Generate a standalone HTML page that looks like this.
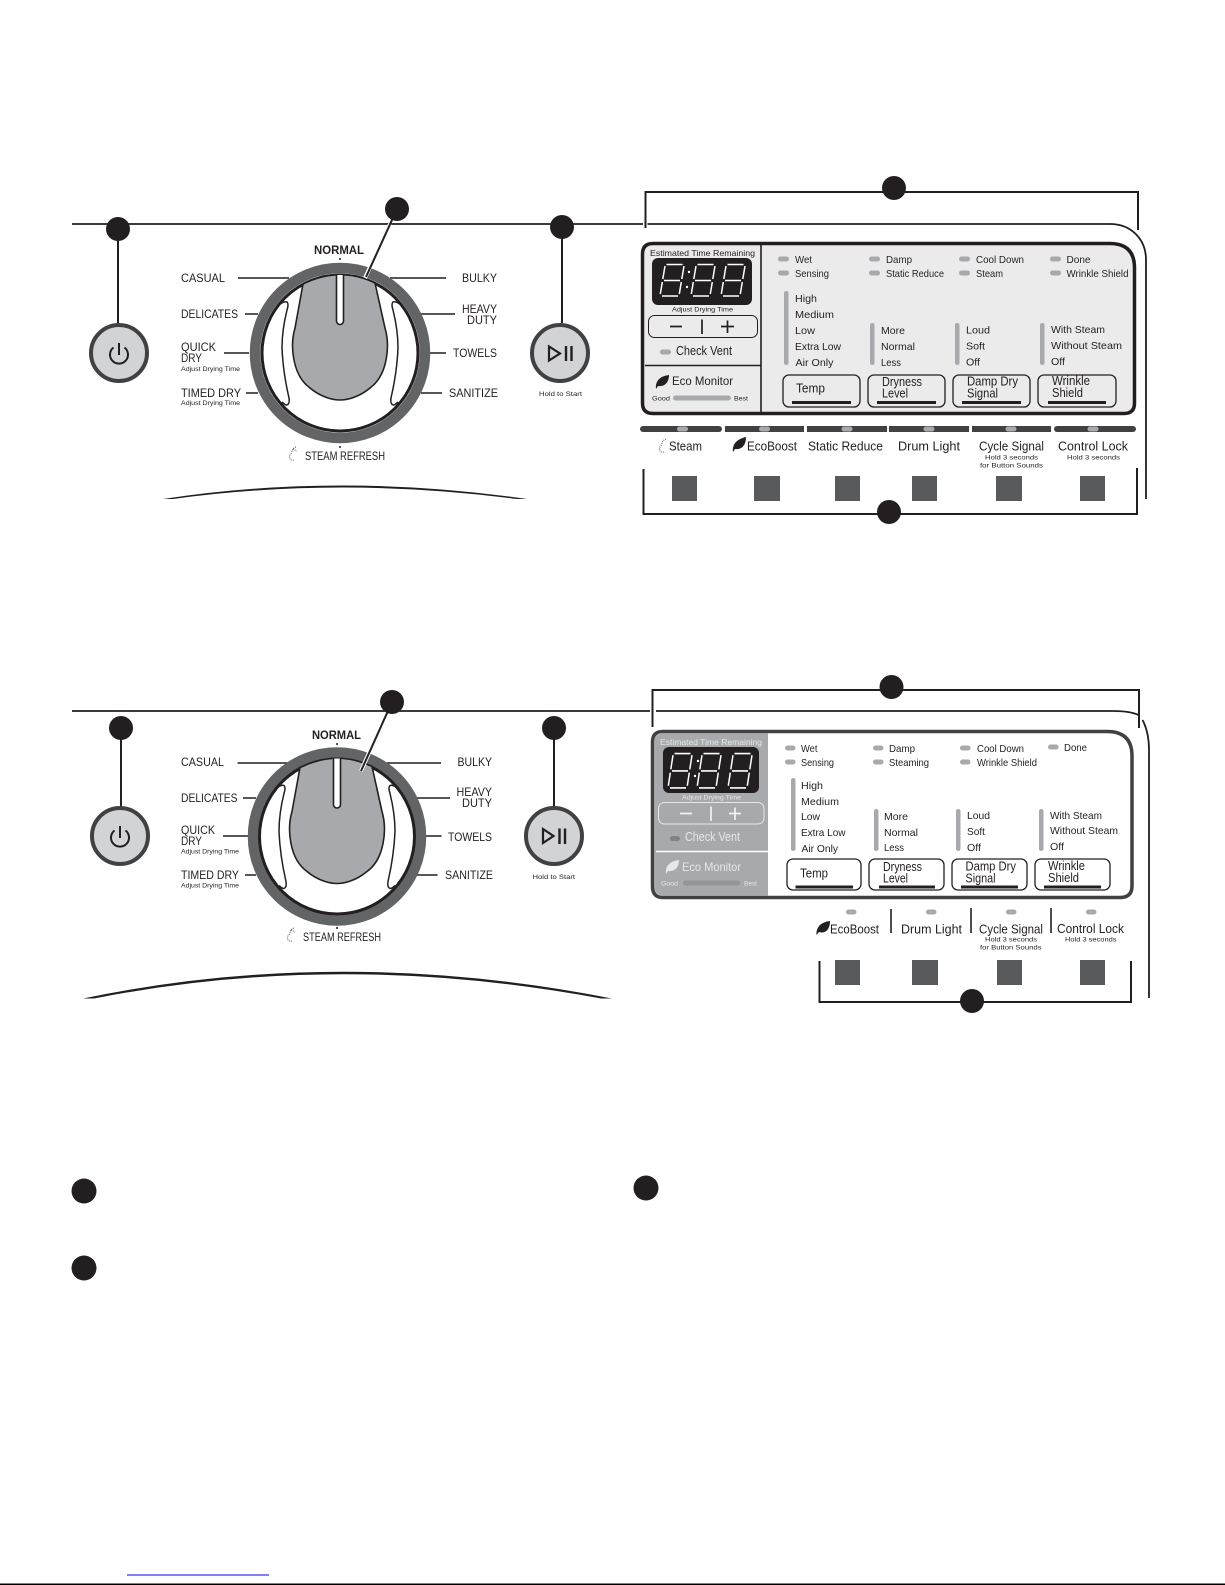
<!DOCTYPE html>
<html><head><meta charset="utf-8"><style>
html,body{margin:0;padding:0;background:#fff;width:1225px;height:1585px;overflow:hidden}
svg{display:block}
text{font-family:"Liberation Sans",sans-serif;fill:#231f20}
.l{font-size:12px}.p{font-size:10.5px}.b{font-size:12.5px}.s{font-size:6.5px}.c{font-size:12.5px}
.w text,text.w{fill:#e6e7e8}
</style></head><body>
<svg width="1225" height="1585" viewBox="0 0 1225 1585" xmlns="http://www.w3.org/2000/svg">
<rect width="1225" height="1585" fill="#fff"/>

<!-- ============ TOP SET: LEFT ============ -->
<g fill="none" stroke="#231f20" stroke-width="1.6">
<path d="M72 224H643M647.500 224H1110C1130 224 1146 238 1146 260V499" stroke-width="1.800"/>
<path d="M118 229V323M562 227V323" stroke-width="2"/>
<path d="M238 278H289M245 314H258M224 353H249M246 393H258M390 278H446M421 314H455M430 353H446M421 393H442"/>
</g>
<circle cx="118" cy="229" r="12" fill="#231f20"/><circle cx="562" cy="227" r="12" fill="#231f20"/>
<!-- power -->
<circle cx="119" cy="353" r="28" fill="#d1d3d4" stroke="#414042" stroke-width="4"/>
<path d="M113.500 347.500A9 9 0 1 0 124.500 347.500M119 343V355" fill="none" stroke="#231f20" stroke-width="2"/>
<!-- play -->
<circle cx="560" cy="353" r="28" fill="#d1d3d4" stroke="#414042" stroke-width="4"/>
<path d="M549 346.500V360.500L560 353.500Z" fill="none" stroke="#231f20" stroke-width="2.200"/>
<path d="M566 346V361M571.500 346V361" stroke="#231f20" stroke-width="2.400"/>
<!-- dial -->
<circle cx="340" cy="353" r="85" fill="#fff" stroke="#636466" stroke-width="10.500"/>
<circle cx="340" cy="353" r="78" fill="#fff" stroke="#231f20" stroke-width="3"/>
<path d="M303 284Q340 266 375 283L385 328C390 345 388 375 370 388C358 398 346 400 340 400C334 400 322 398 310 388C292 375 290 345 295 328Z" fill="#a7a9ac" stroke="#231f20" stroke-width="1.600"/>
<path d="M336.500 275V321A3.500 3.500 0 0 0 343.500 321V275" fill="#fff" stroke="#231f20" stroke-width="1.600"/>
<path d="M279 305Q284 301 287 302Q289 304 287 310Q282 330 282 348Q283 372 289 398Q290 405 286 405Q284 404 282 402" fill="none" stroke="#231f20" stroke-width="1.500"/>
<path d="M401 305Q396 301 393 302Q391 304 393 310Q398 330 398 348Q397 372 391 398Q390 405 394 405Q396 404 398 402" fill="none" stroke="#231f20" stroke-width="1.500"/>
<path d="M390 224L365 278" stroke="#fff" stroke-width="4"/><path d="M397 209L366 277" stroke="#231f20" stroke-width="2"/>
<circle cx="397" cy="209" r="12" fill="#231f20"/>
<circle cx="340" cy="259" r="1" fill="#231f20"/><circle cx="340" cy="447" r="1" fill="#231f20"/>
<text class="l" x="181" y="282" textLength="44" lengthAdjust="spacingAndGlyphs">CASUAL</text>
<text class="l" x="181" y="318" textLength="57" lengthAdjust="spacingAndGlyphs">DELICATES</text>
<text class="l" x="181" y="351" textLength="35" lengthAdjust="spacingAndGlyphs">QUICK</text>
<text class="l" x="181" y="362" textLength="21" lengthAdjust="spacingAndGlyphs">DRY</text>
<text class="s" x="181" y="371" textLength="59" lengthAdjust="spacingAndGlyphs">Adjust Drying Time</text>
<text class="l" x="181" y="397" textLength="60" lengthAdjust="spacingAndGlyphs">TIMED DRY</text>
<text class="s" x="181" y="405" textLength="59" lengthAdjust="spacingAndGlyphs">Adjust Drying Time</text>
<text class="l" x="462" y="282" textLength="35" lengthAdjust="spacingAndGlyphs">BULKY</text>
<text class="l" x="462" y="313" textLength="35" lengthAdjust="spacingAndGlyphs">HEAVY</text>
<text class="l" x="467" y="324" textLength="30" lengthAdjust="spacingAndGlyphs">DUTY</text>
<text class="l" x="453" y="357" textLength="44" lengthAdjust="spacingAndGlyphs">TOWELS</text>
<text class="l" x="449" y="397" textLength="49" lengthAdjust="spacingAndGlyphs">SANITIZE</text>
<text class="l" x="314" y="254" textLength="50" lengthAdjust="spacingAndGlyphs" font-weight="bold">NORMAL</text>
<text class="l" x="305" y="460" textLength="80" lengthAdjust="spacingAndGlyphs">STEAM REFRESH</text>
<path d="M296 447C291 449 293 452 290 455C288 458 291 461 294 460M293 449L297 451" fill="none" stroke="#58595b" stroke-width="1" stroke-dasharray="1 1"/>
<text class="s" x="539" y="396" textLength="43" lengthAdjust="spacingAndGlyphs">Hold to Start</text>
<path d="M163 499Q340 472 527 499H517Q340 476 173 499Z" fill="#231f20"/>

<!-- ============ TOP SET: RIGHT ============ -->
<path d="M645.500 228V192H1138V230" fill="none" stroke="#231f20" stroke-width="2"/>
<circle cx="894" cy="188" r="12" fill="#231f20"/>
<path d="M653 243.500H1110Q1134.500 243.500 1134.500 268V403Q1134.500 413.500 1124 413.500H653Q642.500 413.500 642.500 403V254Q642.500 243.500 653 243.500Z" fill="#ebebec" stroke="#231f20" stroke-width="3.500"/>
<path d="M761 244V413M645 365.500H761" stroke="#231f20" stroke-width="1.600" fill="none"/>
<text x="650" y="256" font-size="8.500" textLength="105" lengthAdjust="spacingAndGlyphs">Estimated Time Remaining</text>
<rect x="652" y="258" width="100" height="47" rx="6" fill="#231f20"/>
<g fill="none" stroke="#fff" stroke-width="1.500">
<g transform="translate(660,264)"><path d="M6.500 .5H22.500M5 2L2.800 15M24 2L21.800 15M4 16.500H20M2.300 18L.3 30M21.300 18L19.300 30M2 32H18"/></g>
<g transform="translate(691,264)"><path d="M6.500 .5H22.500M5 2L2.800 15M24 2L21.800 15M4 16.500H20M2.300 18L.3 30M21.300 18L19.300 30M2 32H18"/></g>
<g transform="translate(721,264)"><path d="M6.500 .5H22.500M5 2L2.800 15M24 2L21.800 15M4 16.500H20M2.300 18L.3 30M21.300 18L19.300 30M2 32H18"/></g>
</g>
<circle cx="689" cy="272" r="1.200" fill="#fff"/><circle cx="687" cy="287" r="1.200" fill="#fff"/>
<text class="s" x="672" y="311.500" textLength="61" lengthAdjust="spacingAndGlyphs">Adjust Drying Time</text>
<rect x="648.500" y="315.500" width="109" height="22" rx="6" fill="none" stroke="#231f20" stroke-width="1"/>
<path d="M670 326.500H682M702 319.500V334M721 326.500H734M727.500 320.500V333" fill="none" stroke="#231f20" stroke-width="1.700"/>
<rect x="660" y="349.500" width="11" height="5" rx="2.500" fill="#a7a9ac"/>
<text x="676" y="355" font-size="12.500" textLength="56" lengthAdjust="spacingAndGlyphs">Check Vent</text>
<path d="M656 389C655 381 660 376 669 375C669 382 665 387 658 386Z" fill="#231f20"/>
<text x="672" y="385" font-size="12" textLength="61" lengthAdjust="spacingAndGlyphs">Eco Monitor</text>
<text class="s" x="652" y="400.500" textLength="18" lengthAdjust="spacingAndGlyphs">Good</text>
<rect x="673" y="395.500" width="58" height="5" rx="2.500" fill="#a7a9ac"/>
<text class="s" x="734" y="400.500" textLength="14" lengthAdjust="spacingAndGlyphs">Best</text>
<g fill="#a7a9ac">
<rect x="778" y="256.500" width="11" height="5" rx="2.500"/><rect x="778" y="270.500" width="11" height="5" rx="2.500"/>
<rect x="869" y="256.500" width="11" height="5" rx="2.500"/><rect x="869" y="270.500" width="11" height="5" rx="2.500"/>
<rect x="959" y="256.500" width="11" height="5" rx="2.500"/><rect x="959" y="270.500" width="11" height="5" rx="2.500"/>
<rect x="1050" y="256.500" width="11" height="5" rx="2.500"/><rect x="1050" y="270.500" width="11" height="5" rx="2.500"/>
<rect x="784" y="291" width="4.500" height="74" rx="2.200"/><rect x="870" y="323" width="4.500" height="42" rx="2.200"/>
<rect x="955" y="323" width="4.500" height="42" rx="2.200"/><rect x="1040" y="323" width="4.500" height="42" rx="2.200"/>
</g>
<text class="p" x="795" y="263" textLength="17" lengthAdjust="spacingAndGlyphs">Wet</text>
<text class="p" x="795" y="277" textLength="34" lengthAdjust="spacingAndGlyphs">Sensing</text>
<text class="p" x="886" y="263" textLength="26" lengthAdjust="spacingAndGlyphs">Damp</text>
<text class="p" x="886" y="277" textLength="58" lengthAdjust="spacingAndGlyphs">Static Reduce</text>
<text class="p" x="976" y="263" textLength="48" lengthAdjust="spacingAndGlyphs">Cool Down</text>
<text class="p" x="976" y="277" textLength="27" lengthAdjust="spacingAndGlyphs">Steam</text>
<text class="p" x="1066.500" y="263" textLength="24" lengthAdjust="spacingAndGlyphs">Done</text>
<text class="p" x="1066.500" y="277" textLength="62" lengthAdjust="spacingAndGlyphs">Wrinkle Shield</text>
<text class="p" x="795" y="302" textLength="22" lengthAdjust="spacingAndGlyphs">High</text>
<text class="p" x="795" y="318" textLength="39" lengthAdjust="spacingAndGlyphs">Medium</text>
<text class="p" x="795" y="334" textLength="20" lengthAdjust="spacingAndGlyphs">Low</text>
<text class="p" x="795" y="350" textLength="46" lengthAdjust="spacingAndGlyphs">Extra Low</text>
<text class="p" x="795.500" y="366" textLength="38" lengthAdjust="spacingAndGlyphs">Air Only</text>
<text class="p" x="881" y="334" textLength="24" lengthAdjust="spacingAndGlyphs">More</text>
<text class="p" x="881" y="350" textLength="34" lengthAdjust="spacingAndGlyphs">Normal</text>
<text class="p" x="881" y="366" textLength="20" lengthAdjust="spacingAndGlyphs">Less</text>
<text class="p" x="966" y="333.500" textLength="24" lengthAdjust="spacingAndGlyphs">Loud</text>
<text class="p" x="966" y="349.500" textLength="19" lengthAdjust="spacingAndGlyphs">Soft</text>
<text class="p" x="966" y="365.500" textLength="14" lengthAdjust="spacingAndGlyphs">Off</text>
<text class="p" x="1051" y="333" textLength="54" lengthAdjust="spacingAndGlyphs">With Steam</text>
<text class="p" x="1051" y="349" textLength="71" lengthAdjust="spacingAndGlyphs">Without Steam</text>
<text class="p" x="1051" y="365" textLength="14" lengthAdjust="spacingAndGlyphs">Off</text>
<g fill="none" stroke="#231f20" stroke-width="1.300">
<rect x="783" y="375" width="77" height="32" rx="6"/><rect x="868" y="375" width="77" height="32" rx="6"/>
<rect x="953" y="375" width="77" height="32" rx="6"/><rect x="1038" y="375" width="78" height="32" rx="6"/>
</g>
<path d="M792 402.500H851M877 402.500H936M962 402.500H1021M1048 402.500H1106" stroke="#231f20" stroke-width="3" fill="none"/>
<text class="b" x="796" y="392.500" textLength="29" lengthAdjust="spacingAndGlyphs">Temp</text>
<text class="b" x="882" y="386" textLength="40" lengthAdjust="spacingAndGlyphs">Dryness</text>
<text class="b" x="882" y="397.500" textLength="26" lengthAdjust="spacingAndGlyphs">Level</text>
<text class="b" x="967" y="385.500" textLength="51" lengthAdjust="spacingAndGlyphs">Damp Dry</text>
<text class="b" x="967" y="397.500" textLength="31" lengthAdjust="spacingAndGlyphs">Signal</text>
<text class="b" x="1052" y="385" textLength="38" lengthAdjust="spacingAndGlyphs">Wrinkle</text>
<text class="b" x="1052" y="397" textLength="31" lengthAdjust="spacingAndGlyphs">Shield</text>
<!-- buttons row -->
<g fill="#414042">
<rect x="640" y="426" width="82" height="6" rx="3"/><rect x="725" y="426" width="79" height="6"/><rect x="807" y="426" width="80" height="6"/>
<rect x="889" y="426" width="80" height="6"/><rect x="972" y="426" width="79" height="6"/><rect x="1054" y="426" width="82" height="6" rx="3"/>
</g>
<g fill="#a7a9ac">
<rect x="677" y="426.500" width="11" height="5" rx="2.500"/><rect x="759" y="426.500" width="11" height="5" rx="2.500"/><rect x="841.500" y="426.500" width="11" height="5" rx="2.500"/>
<rect x="923.500" y="426.500" width="11" height="5" rx="2.500"/><rect x="1005.500" y="426.500" width="11" height="5" rx="2.500"/><rect x="1087.500" y="426.500" width="11" height="5" rx="2.500"/>
</g>
<path d="M666 439C661 441 663 444 660 447C658 450 661 453 664 452" fill="none" stroke="#58595b" stroke-width="1" stroke-dasharray="1 1"/>
<path d="M733 452C732 444 737 439 746 437C746 445 742 450 735 449Z" fill="#231f20"/>
<text class="c" x="669" y="450.500" textLength="33" lengthAdjust="spacingAndGlyphs">Steam</text>
<text class="c" x="747" y="450.500" textLength="50" lengthAdjust="spacingAndGlyphs">EcoBoost</text>
<text class="c" x="808" y="450.500" textLength="75" lengthAdjust="spacingAndGlyphs">Static Reduce</text>
<text class="c" x="898" y="450.500" textLength="62" lengthAdjust="spacingAndGlyphs">Drum Light</text>
<text class="c" x="979" y="450.500" textLength="65" lengthAdjust="spacingAndGlyphs">Cycle Signal</text>
<text class="c" x="1058" y="450.500" textLength="70" lengthAdjust="spacingAndGlyphs">Control Lock</text>
<text class="s" x="985" y="459.500" textLength="53" lengthAdjust="spacingAndGlyphs">Hold 3 seconds</text>
<text class="s" x="980" y="467.500" textLength="63" lengthAdjust="spacingAndGlyphs">for Button Sounds</text>
<text class="s" x="1067" y="459.500" textLength="53" lengthAdjust="spacingAndGlyphs">Hold 3 seconds</text>
<g fill="#58595b">
<rect x="672" y="476" width="25" height="25"/><rect x="754" y="476" width="26" height="25"/><rect x="835" y="476" width="25" height="25"/>
<rect x="912" y="476" width="25" height="25"/><rect x="996" y="476" width="26" height="25"/><rect x="1080" y="476" width="25" height="25"/>
</g>
<path d="M643.500 469V514H1137V468" fill="none" stroke="#231f20" stroke-width="2"/>
<circle cx="889" cy="512" r="12" fill="#231f20"/>

<!-- ============ SECOND SET: LEFT ============ -->
<g fill="none" stroke="#231f20">
<path d="M72 711H650M656 711H1113Q1130 711 1138.500 715M1142.500 720Q1149 732 1149 750V998" stroke-width="1.800"/>
<path d="M121 728V807M554 728V807" stroke-width="2"/>
<g stroke-width="1.600"><path d="M237.500 763H289M243 798H256M223 836H248M245 875H256M387 763H441M417 798H450M426 836H441.500M417 875H437.500"/></g>
</g>
<circle cx="121" cy="728" r="12" fill="#231f20"/><circle cx="554" cy="728" r="12" fill="#231f20"/>
<circle cx="120" cy="836" r="28" fill="#d1d3d4" stroke="#414042" stroke-width="4"/>
<path d="M114.500 830.500A9 9 0 1 0 125.500 830.500M120 826V838" fill="none" stroke="#231f20" stroke-width="2"/>
<circle cx="554" cy="836" r="28" fill="#d1d3d4" stroke="#414042" stroke-width="4"/>
<path d="M543 829V843L553.500 836Z" fill="none" stroke="#231f20" stroke-width="2.200"/>
<path d="M559.500 828.500V844M565 828.500V844" stroke="#231f20" stroke-width="2.400"/>
<g transform="translate(-3,483.500)">
<circle cx="340" cy="353" r="84" fill="#fff" stroke="#636466" stroke-width="10.500"/>
<circle cx="340" cy="353" r="77.500" fill="#fff" stroke="#231f20" stroke-width="3"/>
<path d="M303 284Q340 266 375 283L385 328C390 345 388 375 370 388C358 398 346 400 340 400C334 400 322 398 310 388C292 375 290 345 295 328Z" fill="#a7a9ac" stroke="#231f20" stroke-width="1.600"/>
<path d="M336.500 275V321A3.500 3.500 0 0 0 343.500 321V275" fill="#fff" stroke="#231f20" stroke-width="1.600"/>
<path d="M279 305Q284 301 287 302Q289 304 287 310Q282 330 282 348Q283 372 289 398Q290 405 286 405Q284 404 282 402" fill="none" stroke="#231f20" stroke-width="1.500"/>
<path d="M401 305Q396 301 393 302Q391 304 393 310Q398 330 398 348Q397 372 391 398Q390 405 394 405Q396 404 398 402" fill="none" stroke="#231f20" stroke-width="1.500"/>
</g>
<path d="M385 717L361 771" stroke="#fff" stroke-width="4"/><path d="M392 702L361 771" stroke="#231f20" stroke-width="2"/>
<circle cx="392" cy="702" r="12" fill="#231f20"/>
<circle cx="337" cy="744" r="1" fill="#231f20"/><circle cx="337" cy="928" r="1" fill="#231f20"/>
<text class="l" x="181" y="766" textLength="43" lengthAdjust="spacingAndGlyphs">CASUAL</text>
<text class="l" x="181" y="802" textLength="56.500" lengthAdjust="spacingAndGlyphs">DELICATES</text>
<text class="l" x="181" y="834" textLength="34" lengthAdjust="spacingAndGlyphs">QUICK</text>
<text class="l" x="181" y="845" textLength="21" lengthAdjust="spacingAndGlyphs">DRY</text>
<text class="s" x="181" y="853.500" textLength="58" lengthAdjust="spacingAndGlyphs">Adjust Drying Time</text>
<text class="l" x="181" y="879" textLength="58" lengthAdjust="spacingAndGlyphs">TIMED DRY</text>
<text class="s" x="181" y="887.500" textLength="58" lengthAdjust="spacingAndGlyphs">Adjust Drying Time</text>
<text class="l" x="457.500" y="766" textLength="34.500" lengthAdjust="spacingAndGlyphs">BULKY</text>
<text class="l" x="456.500" y="796" textLength="35.500" lengthAdjust="spacingAndGlyphs">HEAVY</text>
<text class="l" x="462" y="807" textLength="30" lengthAdjust="spacingAndGlyphs">DUTY</text>
<text class="l" x="448" y="841" textLength="44" lengthAdjust="spacingAndGlyphs">TOWELS</text>
<text class="l" x="445" y="879" textLength="48" lengthAdjust="spacingAndGlyphs">SANITIZE</text>
<text class="l" x="312" y="739" textLength="49" lengthAdjust="spacingAndGlyphs" font-weight="bold">NORMAL</text>
<text class="l" x="303" y="941" textLength="78" lengthAdjust="spacingAndGlyphs">STEAM REFRESH</text>
<path d="M294 928C289 930 291 933 288 936C286 939 289 942 292 941M291 930L295 932" fill="none" stroke="#58595b" stroke-width="1" stroke-dasharray="1 1"/>
<text class="s" x="532.500" y="879" textLength="42.500" lengthAdjust="spacingAndGlyphs">Hold to Start</text>
<path d="M83 998.500Q340 945 612 998.500H601Q340 950 94 998.500Z" fill="#231f20"/>

<!-- ============ SECOND SET: RIGHT ============ -->
<path d="M652.500 727V690H1139V728" fill="none" stroke="#231f20" stroke-width="2"/>
<circle cx="891.500" cy="687" r="12" fill="#231f20"/>
<path d="M663 731.500H1107Q1132 731.500 1132 756V886Q1132 897.500 1120 897.500H663Q652.500 897.500 652.500 886V742Q652.500 731.500 663 731.500Z" fill="#fff" stroke="#414042" stroke-width="3.500"/>
<path d="M664 733.500H768V895.500H664Q654.500 895.500 654.500 886V742Q654.500 733.500 664 733.500Z" fill="#a7a9ac"/>
<path d="M656 851.500H768" stroke="#fff" stroke-width="1.500"/>
<text class="w" x="660" y="745" font-size="8.500" textLength="102" lengthAdjust="spacingAndGlyphs">Estimated Time Remaining</text>
<rect x="663" y="747" width="96" height="46" rx="6" fill="#231f20"/>
<g fill="none" stroke="#fff" stroke-width="1.500">
<g transform="translate(668,753) scale(1,1.090)"><path d="M6.500 .5H22.500M5 2L2.800 15M24 2L21.800 15M4 16.500H20M2.300 18L.3 30M21.300 18L19.300 30M2 32H18"/></g>
<g transform="translate(697,753) scale(1,1.090)"><path d="M6.500 .5H22.500M5 2L2.800 15M24 2L21.800 15M4 16.500H20M2.300 18L.3 30M21.300 18L19.300 30M2 32H18"/></g>
<g transform="translate(728,753) scale(1,1.090)"><path d="M6.500 .5H22.500M5 2L2.800 15M24 2L21.800 15M4 16.500H20M2.300 18L.3 30M21.300 18L19.300 30M2 32H18"/></g>
</g>
<circle cx="698" cy="761" r="1.200" fill="#fff"/><circle cx="695" cy="776" r="1.200" fill="#fff"/>
<text class="s w" x="682" y="799.500" textLength="59" lengthAdjust="spacingAndGlyphs">Adjust Drying Time</text>
<rect x="658.500" y="802.500" width="105.500" height="21.500" rx="6" fill="none" stroke="#e6e7e8" stroke-width="1"/>
<path d="M680 813.500H692M711 806.500V821M729 813.500H741M735 807.500V820" fill="none" stroke="#f1f2f2" stroke-width="1.700"/>
<rect x="670" y="836" width="10" height="5" rx="2.500" fill="#808285"/>
<text class="w" x="685" y="841" font-size="12.500" textLength="55" lengthAdjust="spacingAndGlyphs">Check Vent</text>
<path d="M666 874C665 866 670 861 679 860C679 867 675 872 668 871Z" fill="#e6e7e8"/>
<text class="w" x="682" y="871" font-size="12" textLength="59" lengthAdjust="spacingAndGlyphs">Eco Monitor</text>
<text class="s w" x="661" y="885.500" textLength="17" lengthAdjust="spacingAndGlyphs">Good</text>
<rect x="683" y="880.500" width="57" height="5" rx="2.500" fill="#939598"/>
<text class="s w" x="744" y="885.500" textLength="13" lengthAdjust="spacingAndGlyphs">Best</text>
<g fill="#a7a9ac">
<rect x="785" y="745.500" width="10.500" height="5" rx="2.500"/><rect x="785" y="759.500" width="10.500" height="5" rx="2.500"/>
<rect x="873" y="745.500" width="10.500" height="5" rx="2.500"/><rect x="873" y="759.500" width="10.500" height="5" rx="2.500"/>
<rect x="960" y="745.500" width="10.500" height="5" rx="2.500"/><rect x="960" y="759.500" width="10.500" height="5" rx="2.500"/>
<rect x="1048" y="744.500" width="10.500" height="5" rx="2.500"/>
<rect x="791" y="778" width="4.500" height="73" rx="2.200"/><rect x="874" y="809" width="4.500" height="42" rx="2.200"/>
<rect x="956" y="809" width="4.500" height="42" rx="2.200"/><rect x="1039" y="809" width="4.500" height="42" rx="2.200"/>
</g>
<text class="p" x="801" y="752" textLength="16.500" lengthAdjust="spacingAndGlyphs">Wet</text>
<text class="p" x="801" y="766" textLength="33" lengthAdjust="spacingAndGlyphs">Sensing</text>
<text class="p" x="889" y="752" textLength="26" lengthAdjust="spacingAndGlyphs">Damp</text>
<text class="p" x="889" y="766" textLength="40" lengthAdjust="spacingAndGlyphs">Steaming</text>
<text class="p" x="977" y="752" textLength="47" lengthAdjust="spacingAndGlyphs">Cool Down</text>
<text class="p" x="977" y="766" textLength="60" lengthAdjust="spacingAndGlyphs">Wrinkle Shield</text>
<text class="p" x="1064" y="751" textLength="23" lengthAdjust="spacingAndGlyphs">Done</text>
<text class="p" x="801" y="789" textLength="22" lengthAdjust="spacingAndGlyphs">High</text>
<text class="p" x="801" y="805" textLength="38" lengthAdjust="spacingAndGlyphs">Medium</text>
<text class="p" x="801" y="820" textLength="19" lengthAdjust="spacingAndGlyphs">Low</text>
<text class="p" x="801" y="836" textLength="44.500" lengthAdjust="spacingAndGlyphs">Extra Low</text>
<text class="p" x="801.500" y="852" textLength="36.500" lengthAdjust="spacingAndGlyphs">Air Only</text>
<text class="p" x="884" y="820" textLength="24" lengthAdjust="spacingAndGlyphs">More</text>
<text class="p" x="884" y="836" textLength="34" lengthAdjust="spacingAndGlyphs">Normal</text>
<text class="p" x="884" y="851" textLength="20" lengthAdjust="spacingAndGlyphs">Less</text>
<text class="p" x="967" y="819" textLength="23" lengthAdjust="spacingAndGlyphs">Loud</text>
<text class="p" x="967" y="835" textLength="18" lengthAdjust="spacingAndGlyphs">Soft</text>
<text class="p" x="967" y="851" textLength="14" lengthAdjust="spacingAndGlyphs">Off</text>
<text class="p" x="1050" y="819" textLength="52" lengthAdjust="spacingAndGlyphs">With Steam</text>
<text class="p" x="1050" y="834" textLength="68" lengthAdjust="spacingAndGlyphs">Without Steam</text>
<text class="p" x="1050" y="850" textLength="14" lengthAdjust="spacingAndGlyphs">Off</text>
<g fill="#fff" stroke="#231f20" stroke-width="1.300">
<rect x="787" y="859" width="74" height="31" rx="6"/><rect x="869" y="859" width="75" height="31" rx="6"/>
<rect x="952" y="859" width="75" height="31" rx="6"/><rect x="1035" y="859" width="75" height="31" rx="6"/>
</g>
<path d="M795.500 887H853M879 887H935M961 887H1018M1044 887H1101" stroke="#231f20" stroke-width="3" fill="none"/>
<text class="b" x="800" y="877.500" textLength="28" lengthAdjust="spacingAndGlyphs">Temp</text>
<text class="b" x="883" y="871" textLength="39" lengthAdjust="spacingAndGlyphs">Dryness</text>
<text class="b" x="883" y="882.500" textLength="25" lengthAdjust="spacingAndGlyphs">Level</text>
<text class="b" x="965.500" y="870.500" textLength="50.500" lengthAdjust="spacingAndGlyphs">Damp Dry</text>
<text class="b" x="965.500" y="882.500" textLength="30" lengthAdjust="spacingAndGlyphs">Signal</text>
<text class="b" x="1048" y="870" textLength="37" lengthAdjust="spacingAndGlyphs">Wrinkle</text>
<text class="b" x="1048" y="882" textLength="31" lengthAdjust="spacingAndGlyphs">Shield</text>
<g fill="#a7a9ac">
<rect x="846" y="909.500" width="10.500" height="5" rx="2.500"/><rect x="926" y="909.500" width="10.500" height="5" rx="2.500"/>
<rect x="1006" y="909.500" width="10.500" height="5" rx="2.500"/><rect x="1086" y="909.500" width="10.500" height="5" rx="2.500"/>
</g>
<path d="M891 909V933M971 908V933M1051 908V933" stroke="#231f20" stroke-width="1.600" fill="none"/>
<path d="M816.500 935C816 927 821 922 830 921C830 929 826 934 819 932Z" fill="#231f20"/>
<text class="c" x="830" y="933.500" textLength="49" lengthAdjust="spacingAndGlyphs">EcoBoost</text>
<text class="c" x="901" y="933.500" textLength="61" lengthAdjust="spacingAndGlyphs">Drum Light</text>
<text class="c" x="979" y="933.500" textLength="64" lengthAdjust="spacingAndGlyphs">Cycle Signal</text>
<text class="c" x="1057" y="933" textLength="67" lengthAdjust="spacingAndGlyphs">Control Lock</text>
<text class="s" x="985" y="941.500" textLength="52" lengthAdjust="spacingAndGlyphs">Hold 3 seconds</text>
<text class="s" x="980" y="949.500" textLength="61.500" lengthAdjust="spacingAndGlyphs">for Button Sounds</text>
<text class="s" x="1065" y="941.500" textLength="51.500" lengthAdjust="spacingAndGlyphs">Hold 3 seconds</text>
<g fill="#58595b">
<rect x="835" y="960" width="25" height="25"/><rect x="912" y="960" width="26" height="25"/>
<rect x="997" y="960" width="25" height="25"/><rect x="1080" y="960" width="25" height="25"/>
</g>
<path d="M819.500 961V1002H1131V961" fill="none" stroke="#231f20" stroke-width="2"/>
<circle cx="972" cy="1001" r="12" fill="#231f20"/>

<!-- ============ BOTTOM ============ -->
<circle cx="84" cy="1191" r="12.500" fill="#231f20"/>
<circle cx="84" cy="1268" r="12.500" fill="#231f20"/>
<circle cx="646" cy="1188" r="12.500" fill="#231f20"/>
<rect x="127" y="1574.500" width="142" height="1" fill="#0000ff"/>
<rect x="0" y="1583.500" width="1225" height="1.500" fill="#000"/>
</svg>
</body></html>
